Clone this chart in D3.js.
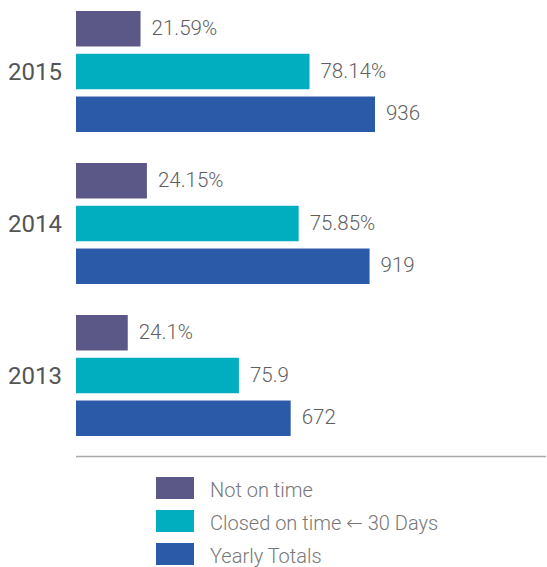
<!DOCTYPE html>
<html>
<head>
<meta charset="utf-8">
<script src="https://cdn.jsdelivr.net/npm/d3@7"></script>
<style>
  body { margin: 0; background: #fff; }
  svg { display: block; font-family: Roboto, "Noto Sans", sans-serif; }
</style>
</head>
<body>
<div id="chart"></div>
<script>
// data
let years = ["2015", "2014", "2013"];
let notOnTime = [202, 222, 162];          // counts (bar lengths)
let closedOnTime = [731, 697, 510];
let yearlyTotals = [936, 919, 672];
let notOnTimeLabels = ["21.59%", "24.15%", "24.1%"];
let closedOnTimeLabels = ["78.14%", "75.85%", "75.9"];
let seriesNames = ["Not on time", "Closed on time \u2190 30 Days", "Yearly Totals"];
let colors = ["#5b5888", "#00aebf", "#2b5ba8"];

let width = 547,
    height = 567;

let svg = d3.select("#chart")
      .append("svg")
      .attr("width", width)
      .attr("height", height);

let x = d3.scaleLinear()
      .domain([0, 936])
      .range([76, 375]);

let yGroup = d3.scaleBand()
      .domain(years)
      .range([11, 467]);

let ySub = d3.scaleBand()
      .domain([0, 1, 2])
      .range([0, 121])
      .paddingInner(0.17)
      .paddingOuter(0);

let rows = years.map(function(y, i) {
  return {
    year: y,
    bars: [
      { s: 0, v: notOnTime[i], label: notOnTimeLabels[i] },
      { s: 1, v: closedOnTime[i], label: closedOnTimeLabels[i] },
      { s: 2, v: yearlyTotals[i], label: String(yearlyTotals[i]) }
    ]
  };
});

let g = svg.selectAll("g.year")
      .data(rows)
      .enter().append("g")
      .attr("class", "year")
      .attr("transform", function(d) { return "translate(0," + yGroup(d.year) + ")"; });

g.append("text")
    .attr("x", 62)
    .attr("y", ySub(1) + ySub.bandwidth() / 2)
    .attr("dy", "0.36em")
    .attr("text-anchor", "end")
    .style("font-size", "24px")
    .style("font-weight", 400)
    .style("fill", "#555")
    .text(function(d) { return d.year; });

let bar = g.selectAll("g.bar")
      .data(function(d) { return d.bars; })
      .enter().append("g")
      .attr("class", "bar");

bar.append("rect")
    .attr("x", x(0))
    .attr("y", function(d) { return ySub(d.s); })
    .attr("width", function(d) { return x(d.v) - x(0); })
    .attr("height", ySub.bandwidth())
    .style("fill", function(d) { return colors[d.s]; });

bar.append("text")
    .attr("x", function(d) { return x(d.v) + 11; })
    .attr("y", function(d) { return ySub(d.s) + ySub.bandwidth() / 2; })
    .attr("dy", "0.3em")
    .style("font-size", "20.5px")
    .style("font-weight", 300)
    .style("fill", "#5f5f5f")
    .text(function(d) { return d.label; });

// separator
svg.append("line")
    .attr("x1", 76)
    .attr("x2", 546)
    .attr("y1", 456.5)
    .attr("y2", 456.5)
    .style("stroke", "#aaa")
    .style("stroke-width", 1.5);

// legend
let legend = svg.selectAll("g.legend")
      .data(seriesNames)
      .enter().append("g")
      .attr("class", "legend")
      .attr("transform", function(d, i) { return "translate(156," + (477 + i * 33) + ")"; });

legend.append("rect")
    .attr("width", 38)
    .attr("height", 22)
    .style("fill", function(d, i) { return colors[i]; });

let legendText = legend.append("text")
    .attr("x", 54)
    .attr("y", 19.5)
    .style("font-size", "20px")
    .style("font-weight", 300)
    .style("fill", "#777");

legendText.each(function(d) {
  let t = d3.select(this);
  let parts = d.split("\u2190");
  t.append("tspan").text(parts[0]);
  if (parts.length > 1) {
    t.append("tspan")
        .style("font-family", "'DejaVu Sans'")
        .style("font-weight", 200)
        .text("\u2190");
    t.append("tspan").text(parts[1]);
  }
});
</script>
</body>
</html>
